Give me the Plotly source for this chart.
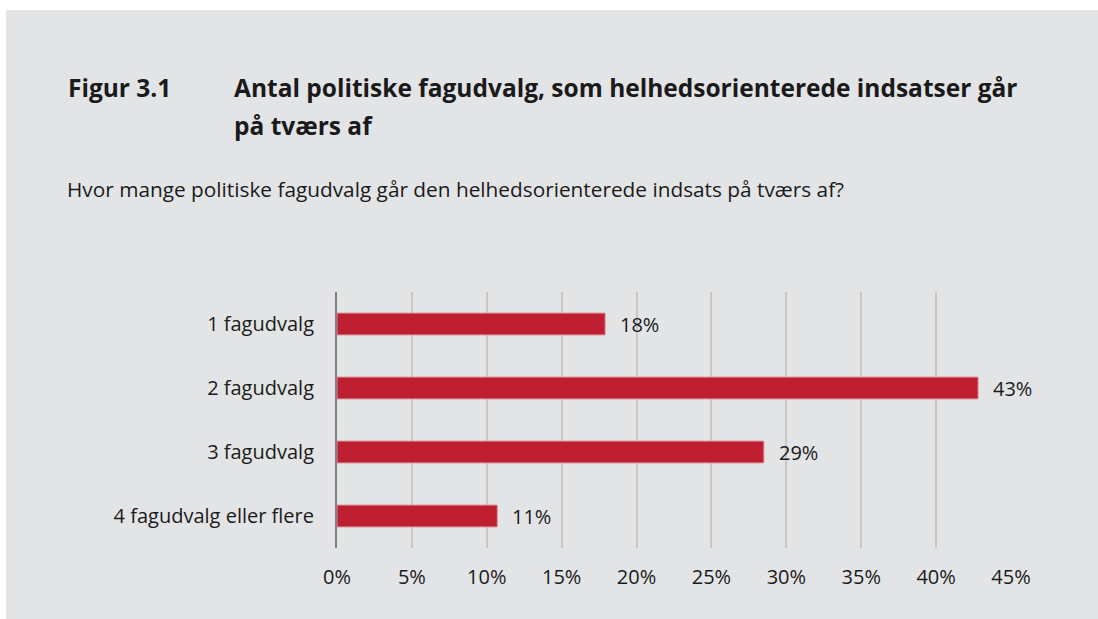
import plotly.graph_objects as go

# data
categories = ["1 fagudvalg", "2 fagudvalg", "3 fagudvalg", "4 fagudvalg eller flere"]
shares = [17.9, 42.8, 28.5, 10.7]
labels = ["18%", "43%", "29%", "11%"]
tick_vals = [0, 5, 10, 15, 20, 25, 30, 35, 40, 45]
tick_text = ["0%", "5%", "10%", "15%", "20%", "25%", "30%", "35%", "40%", "45%"]

W, H = 1098, 619
L, R, T, B = 337, 87, 292, 71
BG = "#e3e4e6"
RED = "#c01f32"
FONT = "Open Sans"
INK = "#1a1a1a"


# helpers to place things at pixel positions (paper coords)
def px_x(x):
    return (x - L) / (W - L - R)


def px_y(y):
    return (H - B - y) / (H - T - B)


fig = go.Figure()
fig.add_trace(go.Bar(
    y=categories,
    x=shares,
    orientation="h",
    width=0.34,
    marker=dict(color=RED, line=dict(color="#d98b96", width=1)),
    hoverinfo="skip",
))

# value labels next to the bars
for cat, val, lab in zip(categories, shares, labels):
    fig.add_annotation(
        x=val, y=cat, text=lab, showarrow=False,
        xanchor="left", xshift=13,
        font=dict(family=FONT, size=20, color=INK),
    )

# title block
fig.add_annotation(
    x=px_x(66), y=px_y(87), xref="paper", yref="paper",
    text="<b>Figur 3.1</b>", showarrow=False, xanchor="left", yanchor="middle",
    font=dict(family=FONT, size=24.5, color=INK),
)
fig.add_annotation(
    x=px_x(232), y=px_y(87), xref="paper", yref="paper",
    text="<b>Antal politiske fagudvalg, som helhedsorienterede indsatser går</b>",
    showarrow=False, xanchor="left", yanchor="middle",
    font=dict(family=FONT, size=24.5, color=INK),
)
fig.add_annotation(
    x=px_x(232), y=px_y(125), xref="paper", yref="paper",
    text="<b>på tværs af</b>", showarrow=False, xanchor="left", yanchor="middle",
    font=dict(family=FONT, size=24.5, color=INK),
)
fig.add_annotation(
    x=px_x(65), y=px_y(189), xref="paper", yref="paper",
    text="Hvor mange politiske fagudvalg går den helhedsorienterede indsats på tværs af?",
    showarrow=False, xanchor="left", yanchor="middle",
    font=dict(family=FONT, size=20.8, color=INK),
)

# white page edges at left and top
fig.add_shape(type="rect", xref="paper", yref="paper",
              x0=px_x(-5), x1=px_x(6), y0=px_y(H + 5), y1=px_y(-5),
              fillcolor="white", line_width=0, layer="below")
fig.add_shape(type="rect", xref="paper", yref="paper",
              x0=px_x(-5), x1=px_x(W + 5), y0=px_y(10), y1=px_y(-5),
              fillcolor="white", line_width=0, layer="below")

fig.update_layout(
    width=W, height=H,
    margin=dict(l=L, r=R, t=T, b=B),
    paper_bgcolor=BG,
    plot_bgcolor=BG,
    showlegend=False,
    font=dict(family=FONT, size=20, color=INK),
)
fig.update_xaxes(
    range=[0, 45], tickvals=tick_vals, ticktext=tick_text,
    showgrid=True, gridcolor="#c8c8c8", gridwidth=2,
    zeroline=False, showline=False, ticks="", ticklabelstandoff=15,
    tickfont=dict(family=FONT, size=20, color=INK),
    fixedrange=True,
)
fig.update_yaxes(
    autorange="reversed", range=[3.5, -0.5],
    showgrid=False, zeroline=False, showline=True,
    linecolor="#7f7f7f", linewidth=2, ticks="", ticklabelstandoff=17,
    tickfont=dict(family=FONT, size=20, color=INK),
    fixedrange=True,
)

# drop the default page margin so the figure fills the window
fig.write_html(
    "out.html",
    config={"displayModeBar": False},
    post_script="document.body.style.margin='0';"
                "document.documentElement.style.overflow='hidden';",
)
